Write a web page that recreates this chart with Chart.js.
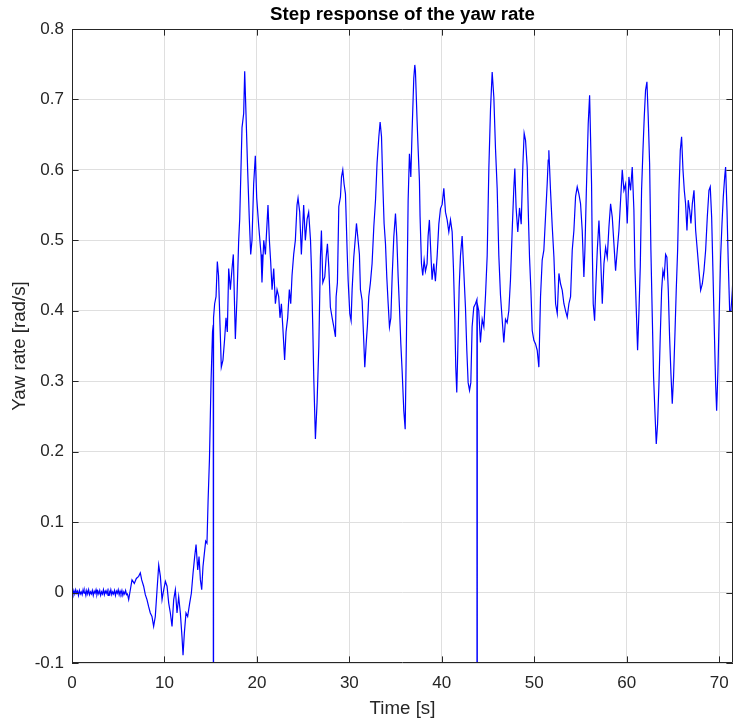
<!DOCTYPE html>
<html>
  <head>
    <meta charset="utf-8" />
    <script src="https://cdn.jsdelivr.net/npm/chart.js"></script>
    <style>
      html, body { margin: 0; padding: 0; background: #ffffff; }
      canvas { display: block; }
    </style>
  </head>
  <body>
    <canvas id="chart" width="735" height="720"></canvas>
    <script>
      const time = [
        0, 0.1, 0.2, 0.3, 0.4, 0.5, 0.6, 0.7, 0.8, 0.9, 1.0, 1.1, 1.2, 1.3, 1.4, 1.5,
        1.6, 1.7, 1.8, 1.9, 2.0, 2.1, 2.2, 2.3, 2.4, 2.5, 2.6, 2.7, 2.8, 2.9, 3.0,
        3.1, 3.2, 3.3, 3.4, 3.5, 3.6, 3.7, 3.8, 3.9, 4.0, 4.1, 4.2, 4.3, 4.4, 4.5,
        4.6, 4.7, 4.8, 4.9, 5.0, 5.1, 5.2, 5.3, 5.4, 5.5, 5.6, 5.7, 5.8, 5.9, 6.0,
        6.13, 6.31, 6.49, 6.74, 6.96, 7.21, 7.39, 7.54, 7.75, 7.93, 8.11, 8.29, 8.47,
        8.65, 8.83, 9.01, 9.20, 9.38, 9.56, 9.74, 9.92, 10.10, 10.28, 10.46, 10.64,
        10.82, 11.00, 11.18, 11.36, 11.54, 11.72, 11.90, 12.01, 12.15, 12.33, 12.51,
        12.73, 12.91, 13.09, 13.27, 13.42, 13.60, 13.74, 13.89, 14.03, 14.17, 14.32,
        14.46, 14.60, 14.72, 14.87, 15.04, 15.20, 15.28, 15.30, 15.32, 15.43, 15.58,
        15.72, 15.85, 16.01, 16.15, 16.33, 16.51, 16.66, 16.80, 16.95, 17.13, 17.31,
        17.45, 17.56, 17.67, 17.85, 18.03, 18.14, 18.39, 18.57, 18.68, 18.82, 19.00,
        19.18, 19.33, 19.47, 19.65, 19.83, 19.98, 20.09, 20.20, 20.45, 20.55, 20.74,
        20.92, 21.20, 21.35, 21.49, 21.64, 21.82, 22.00, 22.18, 22.36, 22.50, 22.65,
        22.79, 23.00, 23.15, 23.33, 23.51, 23.66, 23.80, 23.98, 24.16, 24.34, 24.45,
        24.63, 24.81, 25.06, 25.24, 25.43, 25.60, 25.80, 25.90, 26.04, 26.15, 26.33,
        26.51, 26.70, 26.87, 26.98, 27.13, 27.34, 27.49, 27.63, 27.78, 27.95, 28.14,
        28.32, 28.50, 28.57, 28.71, 28.86, 29.04, 29.15, 29.29, 29.43, 29.58, 29.76,
        29.87, 30.05, 30.19, 30.30, 30.48, 30.66, 30.77, 30.91, 31.09, 31.20, 31.38,
        31.53, 31.67, 31.82, 31.96, 32.10, 32.28, 32.46, 32.65, 32.83, 33.00, 33.19,
        33.33, 33.48, 33.62, 33.76, 33.91, 34.05, 34.20, 34.34, 34.49, 34.63, 34.81,
        34.99, 35.13, 35.28, 35.42, 35.57, 35.71, 35.89, 36.04, 36.18, 36.36, 36.50,
        36.65, 36.79, 36.97, 37.08, 37.15, 37.33, 37.44, 37.58, 37.65, 37.80, 37.94,
        38.09, 38.23, 38.41, 38.52, 38.66, 38.77, 38.95, 39.13, 39.31, 39.50, 39.68,
        39.86, 40.04, 40.22, 40.40, 40.58, 40.76, 40.94, 41.12, 41.26, 41.41, 41.51,
        41.62, 41.73, 41.88, 42.02, 42.20, 42.38, 42.56, 42.71, 42.85, 43.00, 43.14,
        43.28, 43.46, 43.64, 43.80, 43.82, 43.84, 44.00, 44.18, 44.37, 44.55, 44.73,
        44.91, 45.09, 45.27, 45.45, 45.63, 45.81, 45.99, 46.17, 46.35, 46.53, 46.71,
        46.89, 47.07, 47.25, 47.43, 47.61, 47.79, 47.90, 48.04, 48.22, 48.41, 48.59,
        48.77, 48.91, 49.06, 49.24, 49.35, 49.49, 49.64, 49.78, 49.96, 50.14, 50.32,
        50.50, 50.68, 50.86, 51.04, 51.22, 51.40, 51.51, 51.58, 51.76, 51.95, 52.13,
        52.31, 52.49, 52.67, 52.85, 53.03, 53.21, 53.39, 53.57, 53.75, 53.93, 54.11,
        54.29, 54.47, 54.65, 54.83, 55.01, 55.19, 55.37, 55.48, 55.63, 55.73, 55.84,
        55.99, 56.09, 56.20, 56.27, 56.38, 56.53, 56.67, 56.82, 57.00, 57.18, 57.36,
        57.54, 57.72, 57.90, 58.08, 58.26, 58.44, 58.62, 58.80, 58.98, 59.16, 59.34,
        59.52, 59.70, 59.88, 60.06, 60.24, 60.42, 60.60, 60.78, 60.89, 61.03, 61.18,
        61.32, 61.47, 61.61, 61.76, 61.90, 62.04, 62.19, 62.33, 62.48, 62.62, 62.77,
        62.91, 63.05, 63.20, 63.34, 63.49, 63.63, 63.78, 63.92, 64.06, 64.21, 64.35,
        64.50, 64.64, 64.79, 64.93, 65.07, 65.22, 65.36, 65.51, 65.65, 65.80, 65.94,
        66.09, 66.23, 66.37, 66.52, 66.66, 66.81, 66.95, 67.10, 67.28, 67.46, 67.64,
        67.82, 68.00, 68.18, 68.36, 68.54, 68.72, 68.90, 69.04, 69.19, 69.33, 69.48,
        69.62, 69.73, 69.87, 70.02, 70.16, 70.31, 70.45, 70.60, 70.70, 70.85, 70.99,
        71.14, 71.28, 71.43, 71.61, 71.72
      ];

      const yawRate = [
        0.001, -0.003, 0.003, -0.002, 0.004, -0.001, 0.002, -0.004, 0.003, -0.002, 0.001, -0.003, 0.004, -0.001, 0.002, -0.004,
        0.003, -0.002, 0.004, -0.003, 0.001, -0.002, 0.003, -0.004, 0.002, -0.001, 0.004, -0.003, 0.002, -0.002, 0.003,
        -0.004, 0.001, -0.002, 0.004, -0.003, 0.002, -0.001, 0.003, -0.004, 0.002, -0.002, 0.004, -0.003, 0.001, -0.002,
        0.003, -0.004, 0.002, -0.001, 0.004, -0.003, 0.002, -0.002, 0.003, -0.004, 0.001, -0.002, 0.003, -0.003, -0.002,
        -0.010, 0.004, 0.018, 0.013, 0.020, 0.023, 0.028, 0.018, 0.009, -0.003, -0.010, -0.020, -0.029,
        -0.034, -0.048, -0.034, 0.004, 0.039, 0.023, -0.010, 0.004, 0.016, 0.009, -0.015, -0.029,
        -0.048, -0.010, 0.004, -0.029, -0.006, -0.029, -0.063, -0.089, -0.058, -0.029, -0.034,
        -0.015, -0.001, 0.027, 0.051, 0.068, 0.032, 0.051, 0.018, 0.004, 0.037, 0.056,
        0.073, 0.070, 0.130, 0.190, 0.300, 0.370, 0.380, -1.200, 0.390, 0.410, 0.420,
        0.470, 0.450, 0.380, 0.320, 0.330, 0.360, 0.390, 0.370, 0.460, 0.430, 0.460,
        0.480, 0.420, 0.360, 0.420, 0.500, 0.530, 0.660, 0.680, 0.740, 0.680, 0.600,
        0.530, 0.480, 0.500, 0.580, 0.620, 0.560, 0.540, 0.520, 0.480, 0.440, 0.500,
        0.480, 0.550, 0.500, 0.470, 0.430, 0.460, 0.410, 0.430, 0.420, 0.390, 0.410,
        0.380, 0.330, 0.370, 0.390, 0.430, 0.410, 0.450, 0.480, 0.500, 0.550, 0.560,
        0.540, 0.480, 0.550, 0.500, 0.530, 0.540, 0.500, 0.460, 0.380, 0.306, 0.218,
        0.270, 0.350, 0.476, 0.514, 0.440, 0.448, 0.476, 0.495, 0.462, 0.405, 0.390,
        0.377, 0.363, 0.420, 0.440, 0.548, 0.562, 0.590, 0.600, 0.580, 0.566, 0.486,
        0.443, 0.396, 0.386, 0.430, 0.476, 0.505, 0.524, 0.505, 0.480, 0.430, 0.415,
        0.367, 0.320, 0.353, 0.380, 0.420, 0.440, 0.467, 0.520, 0.557, 0.610, 0.647,
        0.668, 0.647, 0.580, 0.524, 0.495, 0.448, 0.410, 0.377, 0.390, 0.448, 0.505,
        0.538, 0.505, 0.448, 0.405, 0.353, 0.315, 0.258, 0.232, 0.367, 0.557, 0.623,
        0.590, 0.656, 0.730, 0.749, 0.740, 0.669, 0.630, 0.585, 0.534, 0.467, 0.450,
        0.472, 0.456, 0.467, 0.506, 0.529, 0.495, 0.444, 0.467, 0.442, 0.478, 0.523,
        0.545, 0.551, 0.574, 0.540, 0.529, 0.512, 0.529, 0.512, 0.461, 0.388, 0.321,
        0.284, 0.343, 0.433, 0.478, 0.506, 0.456, 0.405, 0.343, 0.298, 0.287, 0.298,
        0.377, 0.405, 0.410, 0.416, -1.200, 0.410, 0.400, 0.355, 0.388, 0.377, 0.422,
        0.478, 0.602, 0.686, 0.739, 0.703, 0.630, 0.574, 0.478, 0.422, 0.388, 0.355,
        0.388, 0.383, 0.400, 0.444, 0.512, 0.574, 0.602, 0.546, 0.512, 0.546, 0.523,
        0.607, 0.652, 0.642, 0.604, 0.543, 0.476, 0.429, 0.372, 0.358, 0.353, 0.344,
        0.320, 0.420, 0.472, 0.486, 0.533, 0.580, 0.614, 0.628, 0.571, 0.519, 0.476,
        0.410, 0.396, 0.453, 0.438, 0.429, 0.410, 0.400, 0.391, 0.410, 0.420, 0.486,
        0.514, 0.562, 0.576, 0.566, 0.552, 0.514, 0.448, 0.486, 0.566, 0.614, 0.666,
        0.706, 0.647, 0.580, 0.495, 0.410, 0.386, 0.438, 0.486, 0.528, 0.476, 0.410,
        0.467, 0.490, 0.476, 0.519, 0.552, 0.533, 0.495, 0.457, 0.486, 0.514, 0.557,
        0.600, 0.571, 0.580, 0.524, 0.590, 0.571, 0.604, 0.543, 0.462, 0.405, 0.344,
        0.396, 0.462, 0.571, 0.628, 0.675, 0.713, 0.725, 0.675, 0.609, 0.486, 0.391,
        0.306, 0.258, 0.211, 0.239, 0.296, 0.363, 0.429, 0.457, 0.448, 0.480, 0.476,
        0.429, 0.363, 0.310, 0.268, 0.306, 0.367, 0.429, 0.486, 0.566, 0.628, 0.647,
        0.600, 0.571, 0.552, 0.514, 0.557, 0.543, 0.524, 0.552, 0.571, 0.514, 0.486,
        0.457, 0.429, 0.438, 0.457, 0.486, 0.533, 0.571, 0.576, 0.533, 0.457, 0.372,
        0.296, 0.258, 0.315, 0.400, 0.476, 0.524, 0.562, 0.590, 0.604, 0.543, 0.467,
        0.400, 0.400, 0.429, 0.480, 0.457
      ];

      const xTicksStep = 10;
      const yTicksStep = 0.1;
      const xRange = [0, 71.5];
      const yRange = [-0.1, 0.8];

      const axisColor = '#262626';
      const fontFamily = "'Liberation Sans', Arial, Helvetica, sans-serif";

      const points = time.map((t, i) => ({ x: t, y: yawRate[i] }));

      // MATLAB-like box with inward ticks on all four sides
      const boxPlugin = {
        id: 'boxPlugin',
        afterDraw(chart) {
          const { ctx, chartArea: a, scales } = chart;
          const len = 6.6;
          ctx.save();
          ctx.strokeStyle = axisColor;
          ctx.lineWidth = 1;
          ctx.beginPath();
          ctx.rect(a.left + 0.5, a.top + 0.5, a.right - a.left - 1, a.bottom - a.top - 1);
          for (const tk of scales.x.ticks) {
            const px = Math.round(scales.x.getPixelForValue(tk.value)) + 0.5;
            ctx.moveTo(px, a.bottom);
            ctx.lineTo(px, a.bottom - len);
            ctx.moveTo(px, a.top);
            ctx.lineTo(px, a.top + len);
          }
          for (const tk of scales.y.ticks) {
            const py = Math.round(scales.y.getPixelForValue(tk.value)) + 0.5;
            ctx.moveTo(a.left, py);
            ctx.lineTo(a.left + len, py);
            ctx.moveTo(a.right, py);
            ctx.lineTo(a.right - len, py);
          }
          ctx.stroke();
          ctx.restore();
        }
      };

      new Chart(document.getElementById('chart'), {
        type: 'line',
        data: {
          datasets: [
            {
              label: 'Yaw rate',
              data: points,
              borderColor: '#0000ff',
              borderWidth: 1.2,
              pointRadius: 0,
              tension: 0,
              fill: false
            }
          ]
        },
        options: {
          responsive: false,
          animation: false,
          devicePixelRatio: 1,
          layout: { padding: { left: 0, right: 2, top: 0, bottom: 0 } },
          plugins: {
            legend: { display: false },
            tooltip: { enabled: false },
            title: {
              display: true,
              fullSize: false,
              text: 'Step response of the yaw rate',
              color: '#000000',
              font: { family: fontFamily, size: 18.7, weight: 'bold' },
              padding: { top: 4, bottom: 2.56 }
            }
          },
          scales: {
            x: {
              type: 'linear',
              min: xRange[0],
              max: xRange[1],
              afterFit: (scale) => {
                scale.height = 57;
                scale.paddingLeft = 0;
                scale.paddingRight = 0;
              },
              grid: { color: '#dfdfdf', drawTicks: false },
              border: { display: false },
              ticks: {
                stepSize: xTicksStep,
                includeBounds: false,
                autoSkip: false,
                maxRotation: 0,
                padding: 10,
                color: axisColor,
                font: { family: fontFamily, size: 17 }
              },
              title: {
                display: true,
                text: 'Time [s]',
                color: axisColor,
                font: { family: fontFamily, size: 18.7 },
                padding: { top: 0, bottom: 0 }
              }
            },
            y: {
              type: 'linear',
              min: yRange[0],
              max: yRange[1],
              afterFit: (scale) => { scale.width = 72; },
              grid: { color: '#dfdfdf', drawTicks: false },
              border: { display: false },
              ticks: {
                stepSize: yTicksStep,
                padding: 8,
                color: axisColor,
                font: { family: fontFamily, size: 17 },
                callback: (v) => String(parseFloat(Number(v).toFixed(1)))
              },
              title: {
                display: true,
                text: 'Yaw rate [rad/s]',
                color: axisColor,
                font: { family: fontFamily, size: 18.7 },
                padding: { top: 9, bottom: 0 }
              }
            }
          }
        },
        plugins: [boxPlugin]
      });
    </script>
  </body>
</html>
